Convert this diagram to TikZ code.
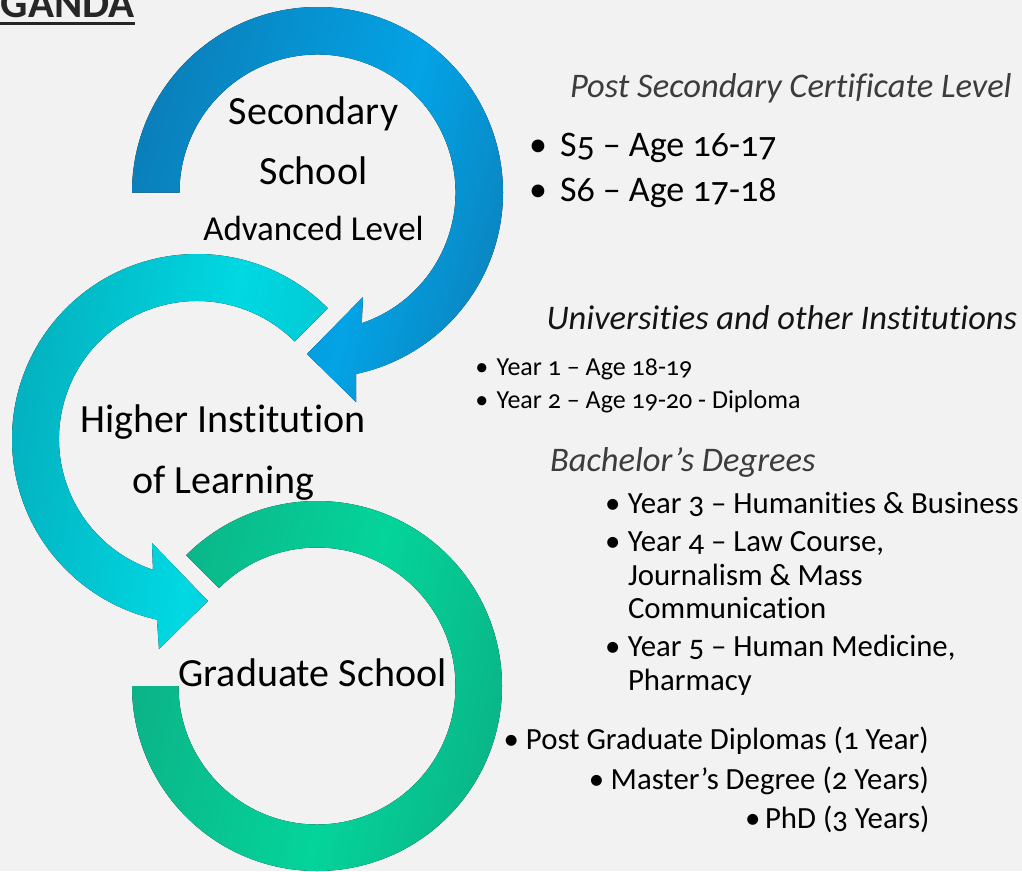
\documentclass[tikz,border=0pt]{standalone}
\usepackage{fontspec}
\setmainfont{Carlito}[Numbers=OldStyle, Ligatures=NoCommon, Contextuals=NoAlternate]
\definecolor{bgc}{HTML}{F2F2F2}
\definecolor{bA}{HTML}{0A7FBA}
\definecolor{bB}{HTML}{03A3E5}
\definecolor{bC}{HTML}{0A86C2}
\definecolor{cA}{HTML}{04ADBC}
\definecolor{cB}{HTML}{00D8E2}
\definecolor{cC}{HTML}{03C6D1}
\definecolor{gA}{HTML}{0CB287}
\definecolor{gB}{HTML}{04D49A}
\definecolor{gC}{HTML}{0AB385}
\definecolor{gtx}{HTML}{262626}
\definecolor{hdgray}{HTML}{3C3C3C}
\definecolor{hdblack}{HTML}{141414}
\pgfdeclarehorizontalshading{blueSh}{100bp}{color(0bp)=(bA); color(25bp)=(bA); color(58bp)=(bB); color(75bp)=(bC); color(100bp)=(bC)}
\pgfdeclarehorizontalshading{cyanSh}{100bp}{color(0bp)=(cA); color(25bp)=(cA); color(57bp)=(cB); color(75bp)=(cC); color(100bp)=(cC)}
\pgfdeclarehorizontalshading{greenSh}{100bp}{color(0bp)=(gA); color(25bp)=(gA); color(53bp)=(gB); color(75bp)=(gC); color(100bp)=(gC)}
\newcommand{\bu}[1]{\llap{\textbullet\kern#1pt}}
\tikzset{
  txt/.style={inner sep=0pt, outer sep=0pt, anchor=base west},
  big/.style={inner sep=0pt, outer sep=0pt, anchor=base, font=\fontsize{40}{48}\selectfont},
  hd/.style={txt, font=\itshape\fontsize{34.5}{40}\selectfont},
  sm/.style={txt, font=\fontsize{26}{30}\selectfont},
  md/.style={txt, font=\fontsize{30.8}{36}\selectfont},
  lg/.style={txt, font=\fontsize{36}{42}\selectfont}
}
\begin{document}
\begin{tikzpicture}[x=1pt,y=-1pt]
\fill[bgc] (0,0) rectangle (1022,871);
\useasboundingbox (0,0) rectangle (1022,871);
% blue circular arrow
\fill[shading=blueSh, shading angle=-16]
  (132,192.5) arc[start angle=-180, end angle=78, radius=185.5]
  -- (356,402) -- (307,354) -- (363,297)
  -- ({317.5+138*cos(71.3)},{192.5+138*sin(71.3)})
  arc[start angle=71.3, end angle=-180, radius=138] -- cycle;
% cyan circular arrow
\fill[shading=cyanSh, shading angle=-10]
  ({197+185*cos(-45)},{439+185*sin(-45)}) arc[start angle=-45, end angle=-257.5, radius=185]
  -- (159,649) -- (208,601) -- (152,543)
  -- ({197+138*cos(-251.4)},{439+138*sin(-251.4)})
  arc[start angle=-251.4, end angle=-45, radius=138] -- cycle;
% green ring
\fill[shading=greenSh, shading angle=-13]
  ({317+185*cos(-135)},{686+185*sin(-135)}) arc[start angle=-135, end angle=180, radius=185]
  -- (178.5,686) arc[start angle=180, end angle=-135, radius=138.5] -- cycle;
% title fragment
\node[txt, font=\bfseries\fontsize{43}{50}\selectfont, text=gtx] (ganda) at (1,17.5) {GANDA};
\draw[gtx, line width=2.7pt] (0,23.3) -- (135,23.3);
% labels in the circles
\node[big] (sec) at (313.5,124) {Secondary};
\node[big] (sch) at (313.5,184) {School};
\node[big, font=\fontsize{35}{42}\selectfont] (adv) at (313.5,240.7) {Advanced Level};
\node[big] (hi) at (223,432) {Higher Institution};
\node[big] (lrn) at (223.5,493) {of Learning};
\node[big] (grad) at (312.5,686.7) {Graduate School};
% right column
\node[hd, text=hdgray] (h1) at (570,97.5) {Post Secondary Certificate Level};
\node[lg] (s5) at (560,156.7) {\bu{13}S5 – Age 16-17};
\node[lg] (s6) at (560,201) {\bu{13}S6 – Age 17-18};
\node[hd, text=hdblack] (h2) at (546.5,329.3) {Universities and other Institutions};
\node[sm] (y1) at (496.7,375) {\bu{8.5}Year 1 – Age 18-19};
\node[sm] (y2) at (496.7,408.3) {\bu{8.5}Year 2 – Age 19-20 - Diploma};
\node[hd, text=hdgray] (h3) at (550,471) {Bachelor’s Degrees};
\node[md] (y3) at (628,513.3) {\bu{7.5}Year 3 – Humanities \& Business};
\node[md] (y4a) at (628,551.7) {\bu{7.5}Year 4 – Law Course,};
\node[md] (y4b) at (628,585) {Journalism \& Mass};
\node[md] (y4c) at (628,618.3) {Communication};
\node[md] (y5a) at (628,656.7) {\bu{7.5}Year 5 – Human Medicine,};
\node[md] (y5b) at (628,690) {Pharmacy};
\node[md] (pg) at (526,749.5) {\bu{7}Post Graduate Diplomas (1 Year)};
\node[md] (ms) at (610.7,789.5) {\bu{6.5}Master’s Degree (2 Years)};
\node[md] (phd) at (765,828.3) {\bu{4.5}PhD (3 Years)};
\end{tikzpicture}
\end{document}
